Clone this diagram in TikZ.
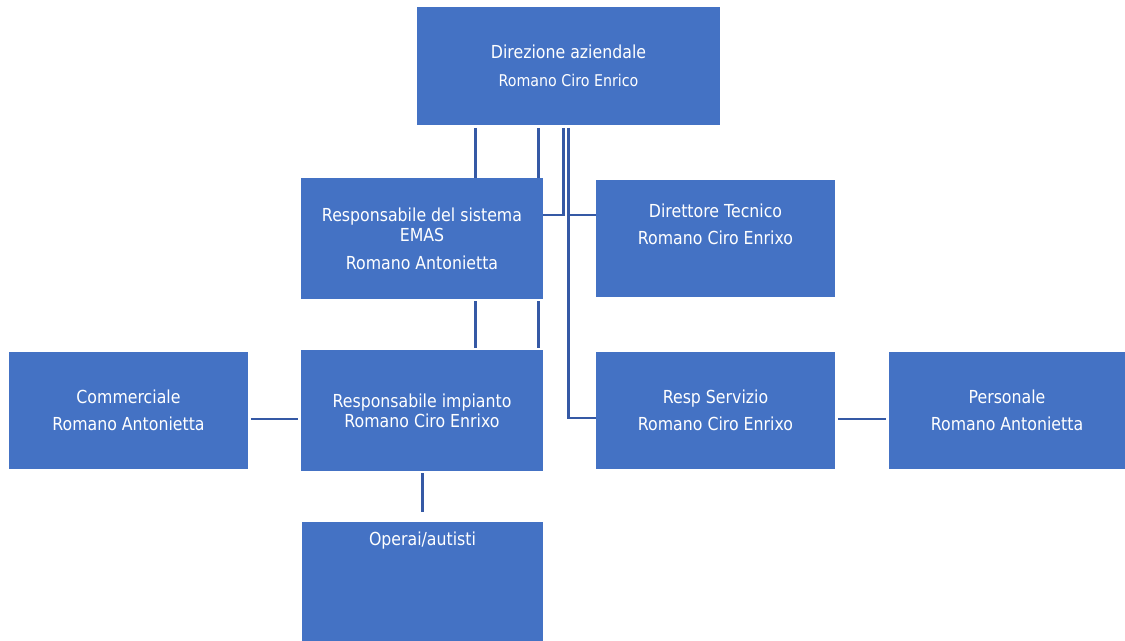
\documentclass[tikz,border=0pt]{standalone}
\usepackage{fontspec}
\setmainfont{DejaVu Sans}[FakeStretch=0.88]
\usetikzlibrary{calc}
\definecolor{boxblue}{HTML}{4472C4}
\definecolor{lineblue}{HTML}{3559A5}

\begin{document}
\begin{tikzpicture}[x=0.02cm,y=-0.02cm,
	box/.style={fill=boxblue,inner sep=0pt,minimum width=4.78cm,minimum height=2.34cm},
	widebox/.style={box,minimum width=4.84cm,minimum height=2.42cm},
	txt/.style={text=white,align=center,inner sep=0pt,font=\fontsize{10.2}{11.3}\selectfont},
	conn/.style={draw=lineblue,line width=1.7pt}]

	\useasboundingbox (0,0) rectangle (1125,641);

	% ---- boxes

	\node[box,minimum width=6.06cm,minimum height=2.36cm] (dir) at (568.5,66) {};
	\node[widebox] (sis) at (422,238.5) {};
	\node[box] (tec) at (715.5,238.5) {};
	\node[box] (com) at (128.5,410.5) {};
	\node[widebox] (imp) at (422,410.5) {};
	\node[box] (ser) at (715.5,410.5) {};
	\node[box,minimum width=4.72cm] (per) at (1007,410.5) {};
	\node[box,minimum width=4.82cm,minimum height=2.38cm] (ope) at (422.5,581.5) {};

	% ---- texts

	\node[txt] (dirT) at (dir) {Direzione aziendale\\[4.6pt]{\fontsize{9.2}{11}\selectfont Romano Ciro Enrico}};
	\node[txt] (sisT) at (sis) {Responsabile del sistema\\EMAS\\[4.6pt]Romano Antonietta};
	\node[txt] (tecT) at ($(tec)+(0,-14)$) {Direttore Tecnico\\[4pt]Romano Ciro Enrixo};
	\node[txt] (comT) at (com) {Commerciale\\[4pt]Romano Antonietta};
	\node[txt] (impT) at (imp) {Responsabile impianto\\Romano Ciro Enrixo};
	\node[txt] (serT) at (ser) {Resp Servizio\\[4pt]Romano Ciro Enrixo};
	\node[txt] (perT) at (per) {Personale\\[4pt]Romano Antonietta};
	\node[txt] (opeT) at ($(ope.north)+(0,19)$) {Operai/autisti};

	% ---- coordinates

	\coordinate (v1) at (475,0);
	\coordinate (v2) at (538,0);
	\coordinate (v3) at (563,215);
	\coordinate (v4) at (568,215);
	\coordinate (v5) at (568,418);
	\coordinate (h1) at (0,419);
	\coordinate (v6) at (422,0);

	% ---- connectors

	\foreach \c in {v1,v2} {
		\draw[conn,shorten <=1.5pt] (\c |- dir.south) -- (\c |- sis.north);
		\draw[conn,shorten <=1pt,shorten >=1pt] (\c |- sis.south) -- (\c |- imp.north);
	}

	\draw[conn,shorten <=1.5pt] (v3 |- dir.south) -- (v3) -- (v3 -| sis.east);
	\draw[conn,shorten <=1.5pt] (v4 |- dir.south) -- (v5) -- (v5 -| ser.west);
	\draw[conn] (v4) -- (v4 -| tec.west);

	\draw[conn,shorten <=1.5pt,shorten >=1.5pt] (h1 -| com.east) -- (h1 -| imp.west);
	\draw[conn,shorten <=1.5pt,shorten >=1.5pt] (h1 -| ser.east) -- (h1 -| per.west);
	\draw[conn,shorten <=1pt,shorten >=5.7pt] (v6 |- imp.south) -- (v6 |- ope.north);

\end{tikzpicture}
\end{document}
